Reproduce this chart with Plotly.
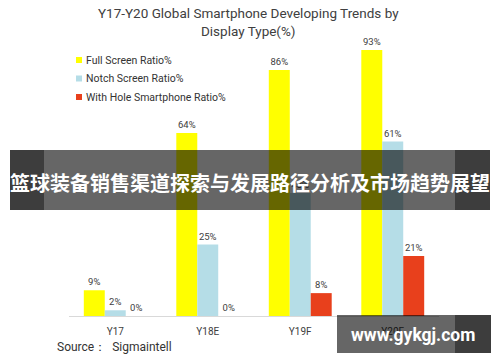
import plotly.graph_objects as go

categories = ["Y17", "Y18E", "Y19F", "Y20F"]
series_names = ["Full Screen Ratio%", "Notch Screen Ratio%", "With Hole Smartphone Ratio%"]
full_screen = [9, 64, 86, 93]
notch_screen = [2, 25, 43, 61]  # Y19F value hidden behind banner
with_hole = [0, 0, 8, 21]
series_values = [full_screen, notch_screen, with_hole]
colors = ["#FFFF00", "#B5DDE7", "#E8401C"]

title_text = "Y17-Y20 Global Smartphone Developing Trends by<br>Display Type(%)"
source_text = "Source：  Sigmaintell"
banner_text = "篮球装备销售渠道探索与发展路径分析及市场趋势展望"
watermark_text = "www.gykgj.com"

W, H = 500, 362
ML, MR, MT, MB = 69, 61, 30, 46
PW, PH = W - ML - MR, H - MT - MB


def px(x):
    return (x - ML) / PW


def py(y):
    return (H - MB - y) / PH


fig = go.Figure()
for name, vals, col in zip(series_names, series_values, colors):
    fig.add_trace(go.Bar(
        x=categories, y=vals, name=name, marker_color=col,
        marker_line_width=0,
        text=[f"{v}%" for v in vals], textposition="outside",
        textfont=dict(size=9.5, color="#404040", family="Roboto"),
        cliponaxis=False, showlegend=False,
    ))

shapes = []
annotations = []
# title
annotations.append(dict(text=title_text, xref="paper", yref="paper",
                        x=px(248), y=py(22.5), xanchor="center", yanchor="middle",
                        showarrow=False,
                        font=dict(size=13.5, color="#404040", family="Roboto")))
# manual legend
for i, (name, col) in enumerate(zip(series_names, colors)):
    cy = 60 + i * 18.5
    shapes.append(dict(type="rect", xref="paper", yref="paper",
                       x0=px(76), x1=px(82), y0=py(cy + 3), y1=py(cy - 3),
                       fillcolor=col, line_width=0))
    annotations.append(dict(text=name, xref="paper", yref="paper",
                            x=px(84), y=py(cy), xanchor="left", yanchor="middle",
                            showarrow=False,
                            font=dict(size=10.5, color="#333333", family="Roboto")))

annotations.append(dict(text=source_text, xref="paper", yref="paper",
                        x=px(55), y=py(347), xanchor="left", yanchor="middle",
                        showarrow=False,
                        font=dict(size=12, color="#333333", family="Roboto")))

# banner overlay
shapes += [
    dict(type="rect", xref="paper", yref="paper", x0=px(10), x1=px(490),
         y0=py(210), y1=py(150), fillcolor="rgba(0,0,0,0.6)", line_width=0, layer="above"),
    dict(type="rect", xref="paper", yref="paper", x0=px(10), x1=px(44),
         y0=py(210), y1=py(150), fillcolor="rgba(0,0,0,0.4)", line_width=0, layer="above"),
    dict(type="rect", xref="paper", yref="paper", x0=px(455), x1=px(490),
         y0=py(210), y1=py(150), fillcolor="rgba(0,0,0,0.4)", line_width=0, layer="above"),
]
annotations.append(dict(text="<b>" + banner_text + "</b>", xref="paper", yref="paper",
                        x=px(250), y=py(182), xanchor="center", yanchor="middle",
                        showarrow=False,
                        font=dict(size=20, color="white", family="Noto Sans CJK SC")))

# watermark
shapes += [
    dict(type="rect", xref="paper", yref="paper", x0=px(337), x1=px(491),
         y0=py(353), y1=py(315), fillcolor="rgba(0,0,0,0.6)", line_width=0, layer="above"),
    dict(type="rect", xref="paper", yref="paper", x0=px(455), x1=px(491),
         y0=py(353), y1=py(315), fillcolor="rgba(0,0,0,0.4)", line_width=0, layer="above"),
]
annotations.append(dict(text="<b>" + watermark_text + "</b>", xref="paper", yref="paper",
                        x=px(413), y=py(335), xanchor="center", yanchor="middle",
                        showarrow=False,
                        font=dict(size=17.5, color="white", family="Roboto")))

fig.update_layout(
    width=W, height=H,
    margin=dict(l=ML, r=MR, t=MT, b=MB),
    paper_bgcolor="white", plot_bgcolor="white",
    barmode="group", bargap=0.32, bargroupgap=0,
    xaxis=dict(showline=True, linecolor="#D9D9D9", linewidth=1, ticks="",
               ticklabelstandoff=6,
               tickfont=dict(size=10, color="#404040", family="Roboto"),
               showgrid=False, zeroline=False),
    yaxis=dict(range=[0, 100], visible=False, showgrid=False, zeroline=False),
    shapes=shapes, annotations=annotations,
)

fig.write_html("out.html", config={"displayModeBar": False},
               post_script="document.body.style.margin='0';document.body.style.overflow='hidden';")
